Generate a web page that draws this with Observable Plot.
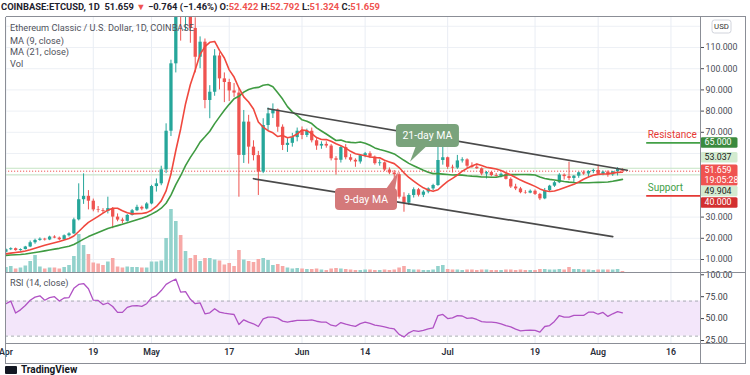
<!DOCTYPE html>
<html><head><meta charset="utf-8">
<script src="https://cdn.jsdelivr.net/npm/d3@7"></script>
<script src="https://cdn.jsdelivr.net/npm/@observablehq/plot@0.6"></script>
<style>
html,body{margin:0;padding:0;background:#fff;}
#wrap{position:relative;width:750px;height:375px;overflow:hidden;background:#fff;font-family:Roboto,"Noto Sans",Arial,sans-serif;}
.txt{position:absolute;white-space:nowrap;}
</style></head>
<body><div id="wrap"></div>
<script>
// ---------- data ----------
const symbol = "COINBASE:ETCUSD, 1D";
const pairName = "Ethereum Classic / U.S. Dollar, 1D, COINBASE";
const startDate = "2021-04-01";
const opens = [13.4,14.6,15.1,14.2,14.7,15.9,17.9,19.0,19.6,19.2,20.6,20.1,19.3,21.2,22.1,28.7,38.2,39.8,37.5,33.4,33.1,32.7,34.0,30.0,28.6,28.0,30.8,33.0,34.6,33.8,
36.2,44.4,45.7,52.3,70.5,102.3,133.0,126.0,140.0,119.0,105.4,112.5,85.0,88.9,106.0,95.2,93.5,89.5,88.5,59.1,74.8,63.0,59.0,51.2,73.2,78.7,80.5,72.4,63.8,64.8,67.5,
70.5,68.5,70.5,66.0,63.5,64.3,63.5,57.5,56.8,62.8,58.0,56.8,56.0,59.0,59.9,58.3,55.2,55.6,52.2,50.8,50.0,39.4,36.6,40.2,42.9,40.3,41.8,43.3,44.9,56.7,
58.0,53.5,53.1,56.5,57.0,54.0,53.5,52.8,50.3,51.0,49.6,49.2,50.2,47.8,44.2,43.3,41.5,41.3,42.2,40.7,38.6,42.5,44.6,46.2,49.8,49.1,48.2,49.3,50.9,50.3,51.5,
52.0,50.2,51.2,49.9,51.4,52.422];
const highs = [15.0,15.5,15.4,15.0,16.2,18.7,19.6,20.2,20.0,21.0,21.2,20.6,21.6,22.6,29.5,45.7,50.4,42.5,38.5,35.0,34.0,39.4,34.5,31.5,29.5,31.2,33.6,35.6,35.2,36.8,
45.0,48.0,54.0,74.0,104.0,176.0,148.0,148.0,146.0,124.0,115.0,114.0,92.0,109.0,107.5,98.0,95.0,93.0,90.5,80.3,78.0,66.0,61.0,76.4,81.5,83.4,81.0,73.5,67.0,69.5,72.0,
72.5,71.5,72.0,67.0,65.5,65.5,64.2,58.5,63.5,64.2,59.5,57.5,59.5,60.5,60.8,58.8,57.0,56.0,53.2,52.0,51.0,41.5,41.0,43.8,43.5,42.5,43.8,45.5,63.0,63.0,
58.3,54.5,59.1,58.0,57.5,55.6,55.0,53.2,51.5,51.5,50.6,50.8,50.5,48.5,45.5,44.0,42.5,42.8,42.8,41.2,43.5,45.0,46.8,50.5,50.4,55.9,49.6,51.2,51.8,51.9,52.6,
54.5,51.7,51.8,51.6,53.3,52.792];
const lows = [13.1,14.2,13.9,13.9,14.5,15.6,17.2,18.6,18.7,18.9,19.8,18.8,19.0,20.6,21.8,28.2,36.0,33.4,32.5,32.0,31.8,31.5,24.5,27.8,26.8,27.6,30.5,32.6,33.0,33.4,
35.8,41.8,44.8,50.5,68.0,98.0,113.0,118.0,112.0,98.0,100.0,81.1,76.4,87.0,90.0,84.0,84.5,86.5,39.4,55.3,55.0,56.5,40.2,50.5,70.5,76.5,70.0,61.4,60.5,63.0,65.5,
66.5,67.5,65.0,61.5,62.0,62.5,56.5,49.8,55.5,57.0,56.0,53.5,55.0,58.0,57.6,54.5,54.0,51.5,50.0,47.3,38.5,32.3,35.5,39.0,39.5,39.2,41.0,42.5,44.5,54.5,
52.5,50.8,52.5,55.5,53.0,53.0,52.5,49.5,48.0,49.0,48.8,48.5,47.5,43.5,42.5,41.0,40.8,41.0,40.2,37.8,38.2,41.8,44.0,45.8,47.5,47.2,46.2,48.3,49.7,48.6,50.5,
49.8,49.5,48.8,49.2,49.4,51.324];
const closes = [14.6,15.1,14.2,14.7,15.9,17.9,19.0,19.6,19.2,20.6,20.1,19.3,21.2,22.1,28.7,38.2,39.8,37.5,33.4,33.1,32.7,34.0,30.0,28.6,28.0,30.8,33.0,34.6,33.8,36.2,
44.4,45.7,52.3,70.5,102.3,133.0,126.0,140.0,119.0,105.4,112.5,85.0,88.9,106.0,95.2,93.5,89.5,88.5,59.1,74.8,63.0,59.0,51.2,73.2,78.7,80.5,72.4,63.8,64.8,67.5,70.5,
68.5,70.5,66.0,63.5,64.3,63.5,57.5,56.8,62.8,58.0,56.8,56.0,59.0,59.9,58.3,55.2,55.6,52.2,50.8,50.0,39.4,36.6,40.2,42.9,40.3,41.8,43.3,44.9,56.7,58.0,
53.5,53.1,56.5,57.0,54.0,53.5,52.8,50.3,51.0,49.6,49.2,50.2,47.8,44.2,43.3,41.5,41.3,42.2,40.7,38.6,42.5,44.6,46.2,49.8,49.1,48.2,49.3,50.9,50.3,51.5,52.0,
50.2,51.2,49.9,51.4,52.423,51.659];
// closes of the 20 days before the first candle (feed the moving averages only)
const priorCloses = [11.5,11.8,11.6,11.2,11.0,11.4,11.3,11.5,11.8,11.6,11.3,11.2,11.8,11.6,12.0,12.3,12.4,12.8,13.0,13.3];
const volumes = [500,600,350,450,650,1100,1700,550,350,450,450,350,500,700,1600,3800,2700,1800,950,850,700,1050,1400,550,450,550,500,500,450,450,
1050,1050,1150,3400,6300,5100,3700,2100,1400,1700,1100,1400,1400,1250,1150,750,900,600,2200,1250,1100,1000,1300,1400,1200,700,800,600,450,350,400,
350,300,300,350,250,200,350,400,350,300,250,200,200,250,250,200,200,250,200,250,450,600,300,250,250,200,200,250,600,700,
300,250,250,200,250,250,200,250,250,200,200,200,250,250,200,250,200,200,200,300,300,250,250,300,250,500,300,300,250,250,200,
250,250,250,250,300,100];
const rsiValues = [66.9,70,56.3,60,65,71,74.5,76,71,74,75,70,73.5,74,84.5,89,90,84,71,70.7,66,67.8,63.8,57.1,57.1,62.8,64.5,64.7,64,67,
74,76.3,82,89,92.3,95.1,80.2,80.7,72,67,68,55.5,56.6,61.2,57.4,56.3,55.5,54.7,43.3,48.6,45.9,44.1,41,49.8,51.7,51.7,50.6,47.1,45.9,47,47.9,
47.9,47.9,48.6,47,46,45.9,42.5,41.5,45.5,43.6,42.3,41.2,44.3,45.9,44.5,42.5,41.6,40.6,39.2,38.2,32,29,33.8,36.4,35.4,36.5,38.3,39.5,53.5,54.8,
50,50.8,53.4,53,50.3,50.8,49,46.5,45.9,45.9,45.5,44,42,40.6,38,36,36.5,36.9,36.5,34.6,41,42.1,46.8,53.5,51.7,51.7,53.6,53.6,53.6,57.3,57.4,
55,57,52.5,55.5,58,56.5];
const tickDates = ["2021-04-01","2021-04-19","2021-05-01","2021-05-17","2021-06-01","2021-06-14","2021-07-01","2021-07-19","2021-08-01","2021-08-16"];
const tickLabels = ["Apr","19","May","17","Jun","14","Jul","19","Aug","16"];
const priceGrid = [10,20,30,40,50,60,70,80,90,100,110,120];
// price labels left visible beside the value boxes and the USD badge
const priceLabelTicks = [10,20,30,70,80,90,100,110];
const rsiTicks = [25,50,75,100];
const rsiBand = [30,70];
const upperTrendDates = ["2021-05-25","2021-08-07"], upperTrendPrices = [81.1,52.1];
const lowerTrendDates = ["2021-05-22","2021-08-04"], lowerTrendPrices = [48.1,20.8];
const levelLabels = ["Resistance","Support"], levelPrices = [65,40], levelStart = "2021-08-11";
const rangeLines = [53.037,49.904];
const countdown = "19:05:28";
const calloutLabels = ["21-day MA","9-day MA"];
const calloutDates = ["2021-06-23T08:00:00Z","2021-06-20T21:00:00Z"];
const calloutPrices = [55.9,51.0];

// ---------- build ----------
const UP = "#26a69a", DOWN = "#ef5350";
const wrap = document.getElementById("wrap");
const day0 = new Date(startDate + "T00:00:00Z");
const data = closes.map((c,i)=>({date:d3.utcDay.offset(day0,i),open:opens[i],high:highs[i],low:lows[i],close:c,volume:volumes[i],rsi:rsiValues[i]}));
const allCloses = priorCloses.concat(closes);
data.forEach((d,i)=>{const k=i+priorCloses.length;
  d.ma9=d3.mean(allCloses.slice(k-8,k+1)); d.ma21=d3.mean(allCloses.slice(k-20,k+1));
  d.color = d.close>=d.open?UP:DOWN; d.vcolor = d.close>=d.open?"#93d2cc":"#f7a9a7";});
const toDate = s => new Date(s.length===10 ? s+"T00:00:00Z" : s);
const ticks = tickDates.map(toDate);
const tickText = new Map(ticks.map((t,i)=>[+t,tickLabels[i]]));
const xDomain = [new Date("2021-03-31T22:00:00Z"), new Date("2021-08-22T02:00:00Z")];
const priceDomain = [3.87,124.62];
const TOP = 16, PH = 256, RH = 71, AH = 20, W = 745, ML = 5, MR = 45;
const upperTrend = upperTrendDates.map((d,i)=>({date:toDate(d),price:upperTrendPrices[i]}));
const lowerTrend = lowerTrendDates.map((d,i)=>({date:toDate(d),price:lowerTrendPrices[i]}));
const levels = levelLabels.map((l,i)=>({label:l,price:levelPrices[i],start:toDate(levelStart),end:xDomain[1],
  line:i===0?"#43a047":"#e53935", text:i===0?"#e53935":"#43a047"}));

function place(el, top){el.style.position="absolute";el.style.left="0px";el.style.top=top+"px";wrap.appendChild(el);return el;}
const baseStyle = {background:"transparent",fontFamily:"Roboto, sans-serif",fontSize:"8.8px",color:"#4a4d57",overflow:"visible"};

// grid + price axis
place(Plot.plot({
  width:W,height:PH,marginLeft:ML,marginRight:MR,marginTop:0,marginBottom:0,style:baseStyle,
  x:{type:"utc",domain:xDomain,axis:null},
  y:{domain:priceDomain,axis:"right",ticks:priceLabelTicks,tickFormat:d=>d.toFixed(3),tickSize:3,tickPadding:2,label:null},
  marks:[Plot.ruleY(priceGrid,{stroke:"#edf0f5"}),Plot.ruleX(ticks,{stroke:"#e9edf4"})]
}),TOP);

// volume
place(Plot.plot({
  width:W,height:PH,marginLeft:ML,marginRight:MR,marginTop:0,marginBottom:0,style:baseStyle,
  x:{type:"utc",domain:xDomain,axis:null},
  y:{domain:[0,PH*100],axis:null},
  color:{type:"identity"},
  marks:[Plot.ruleX(data,{x:"date",y1:0,y2:"volume",stroke:"vcolor",strokeWidth:3.6,clip:true})]
}),TOP);

// candles, averages, annotations
const pricePlot = place(Plot.plot({
  width:W,height:PH,marginLeft:ML,marginRight:MR,marginTop:0,marginBottom:0,style:baseStyle,
  x:{type:"utc",domain:xDomain,axis:null},
  y:{domain:priceDomain,axis:null},
  color:{type:"identity"},
  marks:[
    Plot.ruleY(rangeLines,{stroke:"#c5e4c3",strokeWidth:1}),
    Plot.ruleY([closes[closes.length-1]],{stroke:DOWN,strokeDasharray:"1.2,1.8",strokeWidth:1}),
    Plot.ruleY(levels,{y:"price",x1:"start",x2:"end",stroke:"line",strokeWidth:1.8}),
    Plot.text(levels,{x:"start",y:"price",text:"label",fill:"text",textAnchor:"start",dy:-8,dx:1,fontSize:10}),
    Plot.ruleX(data,{x:"date",y1:"low",y2:"high",stroke:"color",strokeWidth:1,clip:true}),
    Plot.ruleX(data,{x:"date",y1:"open",y2:"close",stroke:"color",strokeWidth:3.3,clip:true}),
    Plot.lineY(data,{x:"date",y:"ma21",stroke:"#3f9b42",strokeWidth:1.6,clip:true}),
    Plot.lineY(data,{x:"date",y:"ma9",stroke:"#f0483e",strokeWidth:1.6,clip:true}),
    Plot.line(upperTrend,{x:"date",y:"price",stroke:"#4a4a4a",strokeWidth:1.7}),
    Plot.line(lowerTrend,{x:"date",y:"price",stroke:"#4a4a4a",strokeWidth:1.7})
  ]
}),TOP);

// RSI + time axis
const rsiPlot = place(Plot.plot({
  width:W,height:RH+AH,marginLeft:ML,marginRight:MR,marginTop:0,marginBottom:AH,
  style:{...baseStyle,color:"#3b3e48",fontSize:"8.8px"},
  x:{type:"utc",domain:xDomain,ticks:ticks,tickFormat:d=>tickText.get(+d)||"",tickSize:0,tickPadding:5,label:null},
  y:{domain:[21.6,102.6],axis:"right",ticks:rsiTicks,tickFormat:d=>d.toFixed(2),tickSize:3,tickPadding:2,label:null},
  marks:[
    Plot.ruleX(ticks,{stroke:"#e9edf4"}),
    Plot.ruleY([50],{stroke:"#ece4f3"}),
    Plot.rect([{a:rsiBand[0],b:rsiBand[1],x1:xDomain[0],x2:xDomain[1]}],{x1:"x1",x2:"x2",y1:"a",y2:"b",fill:"#f3e6fa"}),
    Plot.ruleY(rsiBand,{stroke:"#a9acb3",strokeDasharray:"3,3"}),
    Plot.line(data,{x:"date",y:"rsi",stroke:"#b052c4",strokeWidth:1.3})
  ]
}),TOP+PH);
// time-axis labels are set slightly heavier, as in the reference
d3.select(rsiPlot).selectAll('g[aria-label^="x-axis"] text').attr("font-weight",600).attr("fill","#2a2e39");

// ---------- overlay: callouts, axis boxes, frame ----------
const ys = pricePlot.scale("y"), xs = pricePlot.scale("x");
const py = v => TOP + ys.apply(v), px = d => xs.apply(d);
const ov = d3.select(wrap).append("svg").attr("width",750).attr("height",375)
  .style("position","absolute").style("left","0px").style("top","0px").style("font-family","Roboto, sans-serif");

// callouts
calloutLabels.forEach((lab,i)=>{
  const tx = px(toDate(calloutDates[i])), ty = py(calloutPrices[i]);
  const g = ov.append("g");
  if(i===0){
    const fill="#7aa37c";
    g.append("path").attr("d",`M${tx+6},${ty-16}L${tx+17},${ty-16}L${tx},${ty}Z`).attr("fill",fill);
    g.append("rect").attr("x",tx-14).attr("y",ty-37.7).attr("width",63).attr("height",23).attr("rx",4).attr("fill",fill);
    g.append("text").attr("x",tx+17.5).attr("y",ty-26.2).attr("dy","0.35em").attr("text-anchor","middle")
      .attr("fill","#fff").attr("font-size",10.5).text(lab);
  } else {
    const fill="#d4797a";
    g.append("path").attr("d",`M${tx-12},${ty+17}L${tx-3},${ty+17}L${tx},${ty}Z`).attr("fill",fill);
    g.append("rect").attr("x",tx-63).attr("y",ty+16).attr("width",62).attr("height",22).attr("rx",4).attr("fill",fill);
    g.append("text").attr("x",tx-32).attr("y",ty+27).attr("dy","0.35em").attr("text-anchor","middle")
      .attr("fill","#fff").attr("font-size",10.5).text(lab);
  }
});

// price-scale boxes
const last = closes[closes.length-1];
const boxes = [
  {lines:[levelPrices[0].toFixed(3)],v:levelPrices[0],bg:"#3a8a3e",fg:"#fff",shift:0},
  {lines:[rangeLines[0].toFixed(3)],v:rangeLines[0],bg:"#d3ebd0",fg:"#222",shift:-10.5},
  {lines:[last.toFixed(3),countdown],v:last,bg:"#ef5350",fg:"#fff",shift:4.3},
  {lines:[rangeLines[1].toFixed(3)],v:rangeLines[1],bg:"#d3ebd0",fg:"#222",shift:16.6},
  {lines:[levelPrices[1].toFixed(3)],v:levelPrices[1],bg:"#d32f2f",fg:"#fff",shift:7}
];
boxes.forEach(b=>{
  const h = b.lines.length*10.5, cy = py(b.v)+b.shift, y0 = cy-h/2;
  ov.append("rect").attr("x",700.5).attr("y",y0).attr("width",37).attr("height",h).attr("rx",1.5).attr("fill",b.bg);
  b.lines.forEach((t,j)=>ov.append("text").attr("x",704.5).attr("y",y0+5.25+j*10.5).attr("dy","0.35em")
    .attr("fill",b.fg).attr("font-size",8.8).text(t));
});
// USD badge
ov.append("rect").attr("x",712).attr("y",20).attr("width",19).attr("height",13).attr("rx",2.5).attr("fill","#fff").attr("stroke","#d1d4dc");
ov.append("text").attr("x",721.5).attr("y",26.5).attr("dy","0.35em").attr("text-anchor","middle").attr("font-size",7.8).attr("fill","#333").text("USD");

// frame
const fr = ov.append("g").attr("stroke","#8b8e96").attr("stroke-width",1).attr("shape-rendering","crispEdges");
const yB = TOP+PH+RH+AH;
[[ML,TOP,745,TOP],[ML,TOP+PH,745,TOP+PH],[ML,TOP+PH+RH,745,TOP+PH+RH],[ML,yB,745,yB],
 [ML,TOP,ML,yB],[W-MR,TOP,W-MR,yB],[745,TOP,745,yB]].forEach(l=>
  fr.append("line").attr("x1",l[0]+0.5).attr("y1",l[1]+0.5).attr("x2",l[2]+0.5).attr("y2",l[3]+0.5));

// ---------- text: header, legends, logo ----------
const lastBar = data[data.length-1], prevClose = closes[closes.length-2];
const chg = lastBar.close - prevClose, pct = chg/prevClose*100;
const fmt = v => (v<0?"\u2212":"")+Math.abs(v).toFixed(3);
const red = s => `<span style="color:#ef5350">${s}</span>`;
function addText(html, left, top, css){const d=document.createElement("div");d.className="txt";d.style.left=left+"px";d.style.top=top+"px";d.style.cssText+=css;d.innerHTML=html;wrap.appendChild(d);return d;}
addText(`${symbol}&nbsp; ${lastBar.close.toFixed(3)} ${red("\u25BC")} ${fmt(chg)} (${pct<0?"\u2212":""}${Math.abs(pct).toFixed(2)}%) O:${red(lastBar.open.toFixed(3))} H:${red(lastBar.high.toFixed(3))} L:${red(lastBar.low.toFixed(3))} C:${red(lastBar.close.toFixed(3))}`,
  1,1,"font-size:9.4px;font-weight:700;color:#1e222d;line-height:12px;");
const legCss = "font-size:9.2px;color:#4f525b;line-height:12px;";
addText(pairName,10,22,legCss);
addText("MA (9, close)",10,34.5,legCss);
addText("MA (21, close)",10,46,legCss);
addText("Vol",10,58,legCss);
addText("RSI (14, close)",10,277,legCss);
addText(`<span style="display:inline-block;width:12px;height:8px;background:#131722;border-radius:1px;vertical-align:top;margin-top:2px;margin-right:4px"></span>TradingView`,
  5,364,"font-size:10px;font-weight:700;color:#131722;line-height:11px;");
</script></body></html>
